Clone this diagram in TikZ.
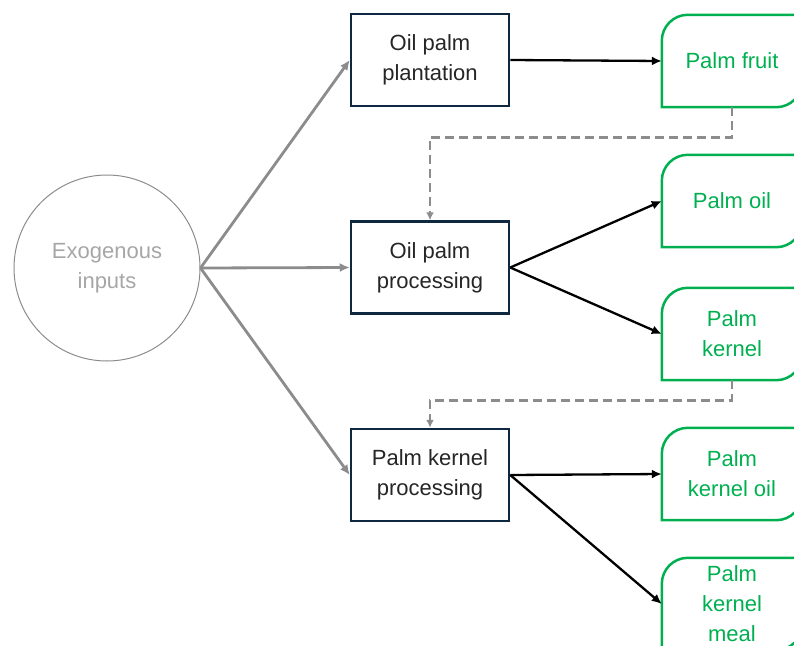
\documentclass[tikz,border=0pt]{standalone}
\usepackage{fontspec}
\setmainfont{Liberation Sans}
\usetikzlibrary{arrows.meta,positioning}
\definecolor{boxblue}{RGB}{14,40,65}
\definecolor{prodgreen}{RGB}{0,176,80}
\definecolor{exogray}{RGB}{140,140,140}
\definecolor{exotext}{RGB}{166,166,166}
\begin{document}
\begin{tikzpicture}[x=1pt,y=-1pt,
    every node/.style={font=\fontsize{22}{30}\selectfont,align=center},
    exo/.style={draw=exogray,circle,line width=1pt,minimum size=186pt,text=exotext},
    stage/.style={draw=boxblue,line width=2.5pt,minimum width=158pt,minimum height=92pt,fill=white,text=black!85},
    prod/.style={minimum width=140pt,minimum height=92pt,text=prodgreen},
    prodline/.style={draw=prodgreen,line width=2.5pt},
    inflow/.style={draw=exogray,line width=2.8pt,-{Latex[length=10pt,width=9pt]}},
    flow/.style={draw=black,line width=2.3pt,-{Latex[length=10pt,width=9pt]}},
    feed/.style={draw=exogray,line width=2.8pt,dash pattern=on 9pt off 5pt,-{Latex[length=8pt,width=8pt]}},
    node distance={113pt}]
\useasboundingbox (0,0) rectangle (794,645);
\clip (0,0) rectangle (794,645);

\node [exo] (exo) at (107,268) {Exogenous\\inputs};
\node [stage] (plant) at (430,60) {Oil palm\\plantation};
\node [stage] (proc) [below=of plant] {Oil palm\\processing};
\node [stage] (kproc) [below=of proc] {Palm kernel\\processing};

\node [prod] (fruit) at (732,61) {Palm fruit};
\node [prod] (oil) at (732,201) {Palm oil};
\node [prod] (kernel) at (732,334) {Palm\\kernel};
\node [prod] (koil) at (732,474) {Palm\\kernel oil};
\node [prod] (kmeal) at (732,604) {Palm\\kernel\\meal};

% product outlines, top left and bottom right rounded
\foreach \p in {fruit,oil,kernel,koil,kmeal}
  \draw[prodline] (\p.south west) -- ([yshift=-26pt]\p.north west)
    arc[start angle=180,end angle=90,radius=26pt] -- (\p.north east)
    -- ([yshift=26pt]\p.south east)
    arc[start angle=0,end angle=-90,radius=26pt] -- cycle;

\draw[inflow] (exo.east) -- (plant.west);
\draw[inflow] (exo.east) -- (proc.west);
\draw[inflow] (exo.east) -- (kproc.west);

\draw[flow] (plant.east) -- (fruit.west);
\draw[flow] (proc.east) -- (oil.west);
\draw[flow] (proc.east) -- (kernel.west);
\draw[flow] (kproc.east) -- (koil.west);
\draw[flow] (kproc.east) -- (kmeal.west);

\draw[feed] (fruit.south) -- ++(0,30) -| (proc.north);
\draw[feed] (kernel.south) -- ++(0,20) -| (kproc.north);
\end{tikzpicture}
\end{document}
